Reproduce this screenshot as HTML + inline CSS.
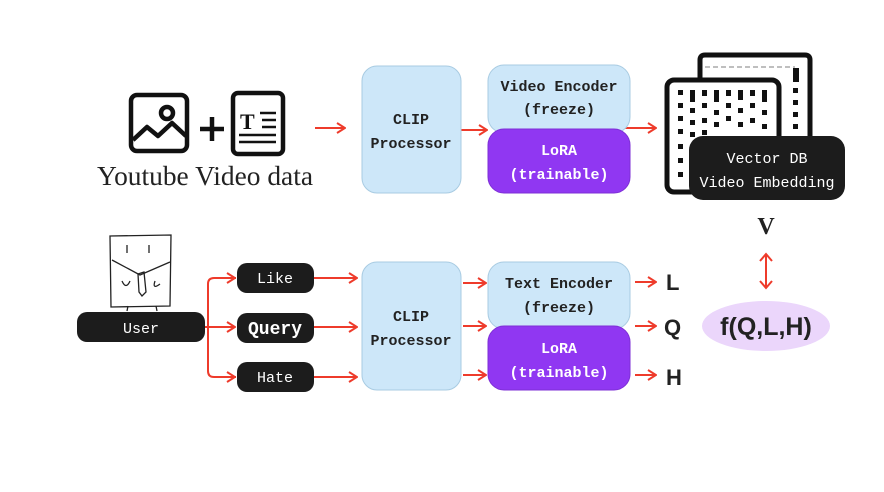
<!DOCTYPE html>
<html><head><meta charset="utf-8"><style>
body{margin:0;background:#fff;}
</style></head><body>
<svg width="884" height="487" viewBox="0 0 884 487" xmlns="http://www.w3.org/2000/svg" font-family="Liberation Mono,monospace">
<defs>
<marker id="ar" markerWidth="10" markerHeight="12" refX="9" refY="6" orient="auto" markerUnits="userSpaceOnUse">
<path d="M1,1 L9,6 L1,11" fill="none" stroke="#ee3b2b" stroke-width="2"/>
</marker>
</defs>
<g stroke="#ee3b2b" stroke-width="2" fill="none">
<line x1="315" y1="128" x2="345" y2="128" marker-end="url(#ar)"/>
<line x1="461" y1="130" x2="487" y2="130" marker-end="url(#ar)"/>
<line x1="624" y1="128" x2="656" y2="128" marker-end="url(#ar)"/>
<path d="M205,327 H230"/>
<path d="M236,278 H214 Q208,278 208,284 V371 Q208,377 214,377 H236" />
<line x1="214" y1="278" x2="235" y2="278" marker-end="url(#ar)"/>
<line x1="214" y1="327" x2="235" y2="327" marker-end="url(#ar)"/>
<line x1="214" y1="377" x2="235" y2="377" marker-end="url(#ar)"/>
<line x1="314" y1="278" x2="357" y2="278" marker-end="url(#ar)"/>
<line x1="314" y1="327" x2="357" y2="327" marker-end="url(#ar)"/>
<line x1="314" y1="377" x2="357" y2="377" marker-end="url(#ar)"/>
<line x1="463" y1="283" x2="486" y2="283" marker-end="url(#ar)"/>
<line x1="463" y1="326" x2="486" y2="326" marker-end="url(#ar)"/>
<line x1="463" y1="375" x2="486" y2="375" marker-end="url(#ar)"/>
<line x1="635" y1="282" x2="656" y2="282" marker-end="url(#ar)"/>
<line x1="635" y1="326" x2="656" y2="326" marker-end="url(#ar)"/>
<line x1="635" y1="375" x2="656" y2="375" marker-end="url(#ar)"/>
<line x1="766" y1="254" x2="766" y2="288"/>
<path d="M760,261 L766,254 L772,261"/>
<path d="M760,281 L766,288 L772,281"/>
</g>
<!-- icons -->
<g fill="none" stroke="#111" stroke-width="4.5" stroke-linejoin="round">
<rect x="131" y="95" width="56" height="56" rx="6"/>
<circle cx="167" cy="113" r="6"/>
<path d="M133,140 L147,127 L158,136 L172,123 L186,136"/>
<rect x="233" y="93" width="50" height="61" rx="5"/>
</g>
<g stroke="#111" stroke-width="4.5"><line x1="200" y1="129" x2="224" y2="129"/><line x1="212" y1="117" x2="212" y2="141"/></g>
<text x="240" y="129" font-family="Liberation Serif,serif" font-size="22" font-weight="bold" fill="#111">T</text>
<g stroke="#111" stroke-width="2.5"><line x1="260" y1="113" x2="276" y2="113"/><line x1="262" y1="120" x2="276" y2="120"/><line x1="262" y1="127" x2="276" y2="127"/><line x1="239" y1="135" x2="276" y2="135"/><line x1="239" y1="142" x2="276" y2="142"/></g>
<text x="97" y="185" font-family="Liberation Serif,serif" font-size="27" fill="#222" textLength="216" lengthAdjust="spacingAndGlyphs">Youtube Video data</text>
<!-- top boxes -->
<rect x="362" y="66" width="99" height="127" rx="15" fill="#cde7f9" stroke="#a8cbe2"/>
<text x="411" y="124" text-anchor="middle" font-size="15" font-weight="bold" fill="#222">CLIP</text>
<text x="411" y="148" text-anchor="middle" font-size="15" font-weight="bold" fill="#222">Processor</text>
<rect x="488" y="65" width="142" height="68" rx="16" fill="#cde7f9" stroke="#a8cbe2"/>
<text x="559" y="91" text-anchor="middle" font-size="15" font-weight="bold" fill="#222">Video Encoder</text>
<text x="559" y="114" text-anchor="middle" font-size="15" font-weight="bold" fill="#222">(freeze)</text>
<rect x="488" y="129" width="142" height="64" rx="16" fill="#9037f2" stroke="#7e2fd6"/>
<text x="559" y="155" text-anchor="middle" font-size="15" font-weight="bold" fill="#fff">LoRA</text>
<text x="559" y="179" text-anchor="middle" font-size="15" font-weight="bold" fill="#fff">(trainable)</text>
<!-- vector db -->
<g fill="#fff" stroke="#111" stroke-width="5">
<path d="M700,86 V60 Q700,55 705,55 H805 Q810,55 810,60 V185"/>
<rect x="667" y="80" width="112" height="112" rx="7"/>
</g>
<line x1="705" y1="67" x2="795" y2="67" stroke="#aaa" stroke-width="1.5" stroke-dasharray="5,3"/>
<g fill="#111">
<rect x="793" y="68" width="6" height="14"/><rect x="793" y="88" width="5" height="5"/><rect x="793" y="100" width="5" height="5"/><rect x="793" y="112" width="5" height="5"/><rect x="793" y="124" width="5" height="5"/>
<rect x="678" y="90" width="5" height="5"/><rect x="690" y="90" width="5" height="12"/><rect x="702" y="90" width="5" height="6"/><rect x="714" y="90" width="5" height="12"/><rect x="726" y="90" width="5" height="6"/><rect x="738" y="90" width="5" height="10"/><rect x="750" y="90" width="5" height="6"/><rect x="762" y="90" width="5" height="12"/>
<rect x="678" y="103" width="5" height="5"/><rect x="690" y="108" width="5" height="5"/><rect x="702" y="103" width="5" height="5"/><rect x="714" y="110" width="5" height="5"/><rect x="726" y="103" width="5" height="5"/><rect x="738" y="108" width="5" height="5"/><rect x="750" y="103" width="5" height="5"/><rect x="762" y="110" width="5" height="5"/>
<rect x="678" y="116" width="5" height="5"/><rect x="690" y="120" width="5" height="5"/><rect x="702" y="118" width="5" height="5"/><rect x="714" y="122" width="5" height="5"/><rect x="726" y="116" width="5" height="5"/><rect x="738" y="122" width="5" height="5"/><rect x="750" y="118" width="5" height="5"/><rect x="762" y="124" width="5" height="5"/>
<rect x="678" y="129" width="5" height="5"/><rect x="690" y="132" width="5" height="5"/><rect x="702" y="130" width="5" height="5"/><rect x="678" y="144" width="5" height="5"/><rect x="678" y="158" width="5" height="5"/><rect x="678" y="172" width="5" height="5"/>
</g>
<rect x="689" y="136" width="156" height="64" rx="14" fill="#1c1c1c"/>
<text x="767" y="163" text-anchor="middle" font-size="15" fill="#fff">Vector DB</text>
<text x="767" y="187" text-anchor="middle" font-size="15" fill="#fff">Video Embedding</text>
<text x="766" y="234" text-anchor="middle" font-family="Liberation Serif,serif" font-size="24" font-weight="bold" fill="#222">V</text>
<ellipse cx="766" cy="326" rx="64" ry="25" fill="#ebd6fb"/>
<text x="766" y="335" text-anchor="middle" font-family="Liberation Sans,sans-serif" font-size="25" font-weight="bold" fill="#222">f(Q,L,H)</text>
<!-- bottom boxes -->
<rect x="362" y="262" width="99" height="128" rx="15" fill="#cde7f9" stroke="#a8cbe2"/>
<text x="411" y="321" text-anchor="middle" font-size="15" font-weight="bold" fill="#222">CLIP</text>
<text x="411" y="345" text-anchor="middle" font-size="15" font-weight="bold" fill="#222">Processor</text>
<rect x="488" y="262" width="142" height="67" rx="16" fill="#cde7f9" stroke="#a8cbe2"/>
<text x="559" y="288" text-anchor="middle" font-size="15" font-weight="bold" fill="#222">Text Encoder</text>
<text x="559" y="312" text-anchor="middle" font-size="15" font-weight="bold" fill="#222">(freeze)</text>
<rect x="488" y="326" width="142" height="64" rx="16" fill="#9037f2" stroke="#7e2fd6"/>
<text x="559" y="353" text-anchor="middle" font-size="15" font-weight="bold" fill="#fff">LoRA</text>
<text x="559" y="377" text-anchor="middle" font-size="15" font-weight="bold" fill="#fff">(trainable)</text>
<g font-family="Liberation Sans,sans-serif" font-size="22" font-weight="bold" fill="#222">
<text x="666" y="290">L</text><text x="664" y="335">Q</text><text x="666" y="385">H</text>
</g>
<!-- user -->
<g fill="none" stroke="#222" stroke-width="1.3">
<path d="M110,236 L171,235 L170,306 L111,307 Z"/>
<path d="M112,260 L140,275 L170,262"/>
<line x1="127" y1="245" x2="127" y2="253"/><line x1="149" y1="245" x2="149" y2="253"/>
<path d="M122,281 Q126,290 130,281"/><path d="M155,281 Q152,290 160,284"/>
<path d="M138,274 L144,272 L146,292 L142,296 L139,292 Z"/>
<line x1="128" y1="306" x2="127" y2="311"/><line x1="156" y1="306" x2="157" y2="311"/>
</g>
<rect x="77" y="312" width="128" height="30" rx="10" fill="#1c1c1c"/>
<text x="141" y="333" text-anchor="middle" font-size="15" fill="#fff">User</text>
<rect x="237" y="263" width="77" height="30" rx="10" fill="#1c1c1c"/>
<text x="275" y="283" text-anchor="middle" font-size="15" fill="#fff">Like</text>
<rect x="237" y="313" width="77" height="30" rx="10" fill="#1c1c1c"/>
<text x="275" y="334" text-anchor="middle" font-size="18" font-weight="bold" fill="#fff">Query</text>
<rect x="237" y="362" width="77" height="30" rx="10" fill="#1c1c1c"/>
<text x="275" y="382" text-anchor="middle" font-size="15" fill="#fff">Hate</text>
</svg>
</body></html>
